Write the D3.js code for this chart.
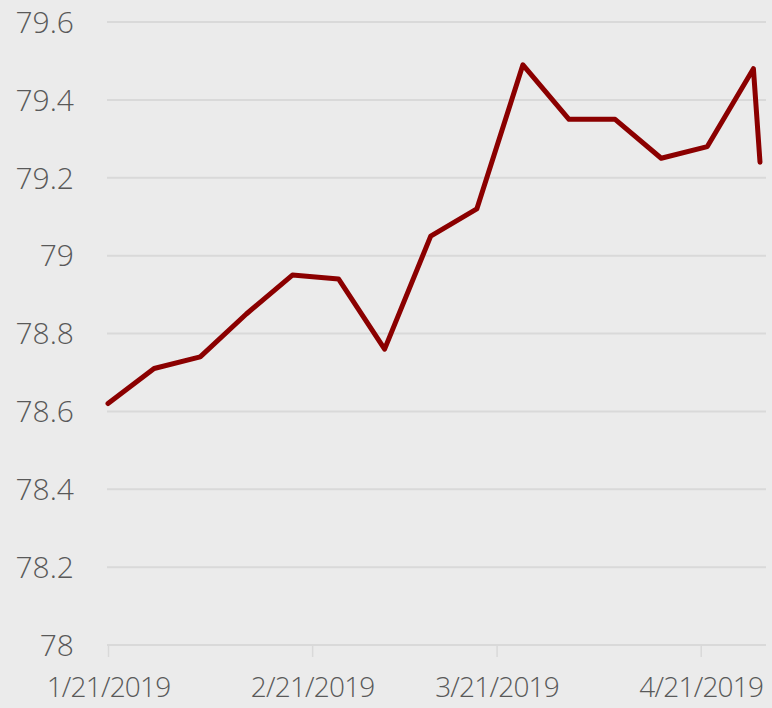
<!DOCTYPE html>
<html>
<head>
<meta charset="utf-8">
<script src="https://cdn.jsdelivr.net/npm/d3@7"></script>
<style>
  html, body { margin: 0; padding: 0; background: #ebebeb; }
  svg { display: block; }
</style>
</head>
<body>
<div id="chart"></div>
<script>
// weekly observations
const dates = ["2019-01-21", "2019-01-28", "2019-02-04", "2019-02-11", "2019-02-18",
  "2019-02-25", "2019-03-04", "2019-03-11", "2019-03-18", "2019-03-25",
  "2019-04-01", "2019-04-08", "2019-04-15", "2019-04-22", "2019-04-29", "2019-04-30"];
const values = [78.62, 78.71, 78.74, 78.85, 78.95, 78.94, 78.76, 79.05, 79.12, 79.49,
  79.35, 79.35, 79.25, 79.28, 79.48, 79.24];
const yTicks = [78, 78.2, 78.4, 78.6, 78.8, 79, 79.2, 79.4, 79.6];
const xTicks = ["2019-01-21", "2019-02-21", "2019-03-21", "2019-04-21"];

const width = 772, height = 708;
const margin = {top: 22, right: 6, bottom: 63, left: 107};

const parse = d3.timeParse("%Y-%m-%d");
const data = dates.map((d, i) => ({date: parse(d), value: values[i]}));

const svg = d3.select("#chart").append("svg")
  .attr("width", width)
  .attr("height", height)
  .style("background-color", "#ebebeb")
  .style("font-family", "'Open Sans', sans-serif");

const x = d3.scaleTime()
  .domain([parse("2019-01-21"), parse("2019-04-30")])
  .range([margin.left + 1, width - 12]);

const y = d3.scaleLinear()
  .domain([78, 79.6])
  .range([height - margin.bottom, margin.top]);

// gridlines
svg.append("g")
  .selectAll("line")
  .data(yTicks)
  .enter().append("line")
    .attr("x1", margin.left)
    .attr("x2", width - margin.right)
    .attr("y1", d => y(d))
    .attr("y2", d => y(d))
    .attr("stroke", "#d9d9d9")
    .attr("stroke-width", 2);

// y labels
svg.append("g")
  .selectAll("text")
  .data(yTicks)
  .enter().append("text")
    .attr("x", 74)
    .attr("y", d => y(d))
    .attr("dy", "0.36em")
    .attr("text-anchor", "end")
    .attr("fill", "#595959")
    .style("font-size", "30px")
    .style("font-weight", 300)
    .text(d => d3.format("~g")(d));

// x axis
const xAxis = svg.append("g")
  .attr("transform", `translate(0,${y(78)})`)
  .call(d3.axisBottom(x)
    .tickValues(xTicks.map(parse))
    .tickSize(12)
    .tickPadding(20)
    .tickFormat(d3.timeFormat("%-m/%-d/%Y")));

xAxis.select(".domain").remove();
xAxis.insert("line", ":first-child")
  .attr("x1", margin.left)
  .attr("x2", width - margin.right)
  .attr("stroke", "#d9d9d9")
  .attr("stroke-width", 2);
xAxis.selectAll(".tick line")
  .attr("stroke", "#d9d9d9")
  .attr("stroke-width", 1.5);
xAxis.selectAll(".tick text")
  .attr("fill", "#595959")
  .style("font-family", "'Open Sans', sans-serif")
  .style("font-size", "28px")
  .style("letter-spacing", "-0.8px")
  .style("font-weight", 300);

// line
const line = d3.line()
  .x(d => x(d.date))
  .y(d => y(d.value));

svg.append("path")
  .datum(data)
  .attr("d", line)
  .attr("fill", "none")
  .attr("stroke", "#8b0000")
  .attr("stroke-width", 5)
  .attr("stroke-linejoin", "round")
  .attr("stroke-linecap", "round");
</script>
</body>
</html>
